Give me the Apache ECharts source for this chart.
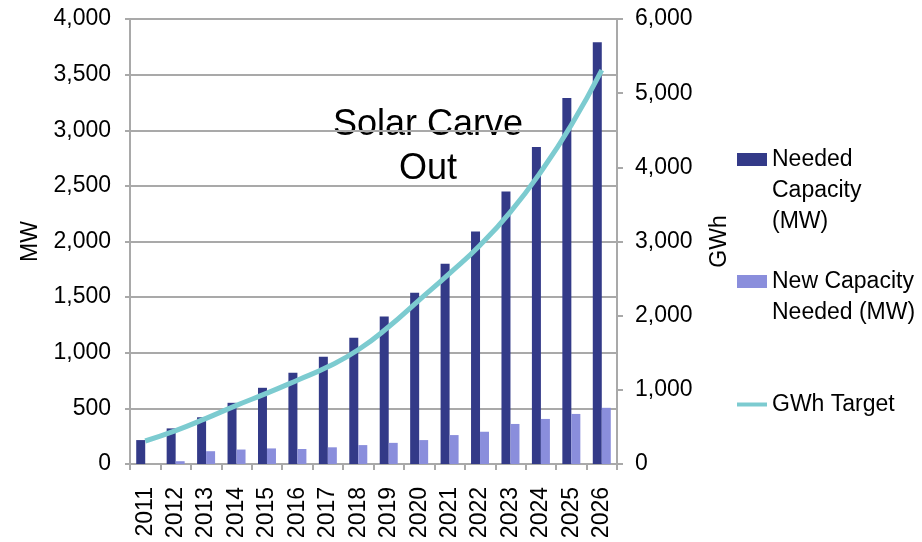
<!DOCTYPE html>
<html>
<head>
<meta charset="utf-8">
<script src="https://cdn.jsdelivr.net/npm/echarts@6/dist/echarts.min.js"></script>
<style>
  html, body { margin: 0; padding: 0; background: #fff; }
  #chart { width: 922px; height: 542px; }
</style>
</head>
<body>
<div id="chart"></div>
<script>
var years = ['2011','2012','2013','2014','2015','2016','2017','2018','2019','2020','2021','2022','2023','2024','2025','2026'];
var neededCapacity = [215, 320, 420, 550, 685, 820, 965, 1135, 1325, 1540, 1800, 2090, 2450, 2850, 3290, 3790];
var newCapacity = [0, 25, 115, 130, 140, 135, 150, 170, 190, 215, 260, 290, 360, 405, 450, 505];
var gwhTarget = [310, 450, 615, 790, 955, 1130, 1310, 1540, 1850, 2210, 2570, 2950, 3400, 3940, 4570, 5310];
var leftTicks = { min: 0, max: 4000, interval: 500 };
var rightTicks = { min: 0, max: 6000, interval: 1000 };

var FONT = 'Liberation Sans, Arial, sans-serif';
var GRAY = '#a9a9a9';
var fmt = function (v) { return v.toLocaleString('en-US'); };

var chart = echarts.init(document.getElementById('chart'), null, { renderer: 'canvas' });
var legendText = { color: '#000', fontSize: 23, lineHeight: 31, fontFamily: FONT };
chart.setOption({
  animation: false,
  backgroundColor: '#fff',
  grid: { left: 130, right: 305, top: 19, bottom: 78, containLabel: false },
  graphic: [{
    type: 'text', x: 428, y: 147,
    style: { text: 'Solar Carve\nOut', font: '36px ' + FONT, fill: '#000',
             align: 'center', verticalAlign: 'middle', lineHeight: 44 }
  }],
  legend: [
    { data: ['Needed Capacity (MW)'], left: 737, top: 82, orient: 'vertical', padding: 0,
      itemWidth: 30, itemHeight: 13, icon: 'rect', textStyle: legendText,
      formatter: function () { return '\n\nNeeded\nCapacity\n(MW)'; } },
    { data: ['New Capacity Needed (MW)'], left: 737, top: 235, orient: 'vertical', padding: 0,
      itemWidth: 30, itemHeight: 13, icon: 'rect', textStyle: legendText,
      formatter: function () { return '\nNew Capacity\nNeeded (MW)'; } },
    { data: ['GWh Target'], left: 737, top: 389, orient: 'vertical', padding: 0,
      itemWidth: 30, itemHeight: 4, icon: 'rect', textStyle: legendText }
  ],
  xAxis: {
    type: 'category', data: years, boundaryGap: true,
    axisLine: { lineStyle: { color: GRAY, width: 2 } },
    axisTick: { show: true, length: 6, lineStyle: { color: GRAY, width: 2 } },
    axisLabel: { rotate: 90, margin: 23, color: '#000', fontSize: 23, fontFamily: FONT, interval: 0 },
    splitLine: { show: false }
  },
  yAxis: [{
    type: 'value', min: leftTicks.min, max: leftTicks.max, interval: leftTicks.interval,
    name: 'MW', nameLocation: 'middle', nameRotate: 90, nameGap: 81,
    nameTextStyle: { color: '#000', fontSize: 23, fontFamily: FONT },
    axisLine: { show: true, lineStyle: { color: GRAY, width: 2 } },
    axisTick: { show: true, length: 5, lineStyle: { color: GRAY, width: 2 } },
    axisLabel: { margin: 19, color: '#000', fontSize: 23, fontFamily: FONT, formatter: fmt },
    splitLine: { show: true, lineStyle: { color: GRAY, width: 2 } }
  }, {
    type: 'value', position: 'right', min: rightTicks.min, max: rightTicks.max, interval: rightTicks.interval,
    name: 'GWh', nameLocation: 'middle', nameRotate: 90, nameGap: 91,
    nameTextStyle: { color: '#000', fontSize: 23, fontFamily: FONT },
    axisLine: { show: true, lineStyle: { color: GRAY, width: 2 } },
    axisTick: { show: true, length: 6, lineStyle: { color: GRAY, width: 2 } },
    axisLabel: { margin: 18, color: '#000', fontSize: 23, fontFamily: FONT, formatter: fmt },
    splitLine: { show: false }
  }],
  series: [{
    name: 'Needed Capacity (MW)', type: 'bar', data: neededCapacity,
    barWidth: 9, barGap: '0%', itemStyle: { color: '#333a88' }
  }, {
    name: 'New Capacity Needed (MW)', type: 'bar', data: newCapacity,
    barWidth: 9, barGap: '0%', itemStyle: { color: '#8a8edc' }
  }, {
    name: 'GWh Target', type: 'line', yAxisIndex: 1, data: gwhTarget,
    smooth: true, symbol: 'none', z: 5,
    itemStyle: { color: '#7ccbd0' },
    lineStyle: { color: '#7ccbd0', width: 5 }
  }]
});
</script>
</body>
</html>
